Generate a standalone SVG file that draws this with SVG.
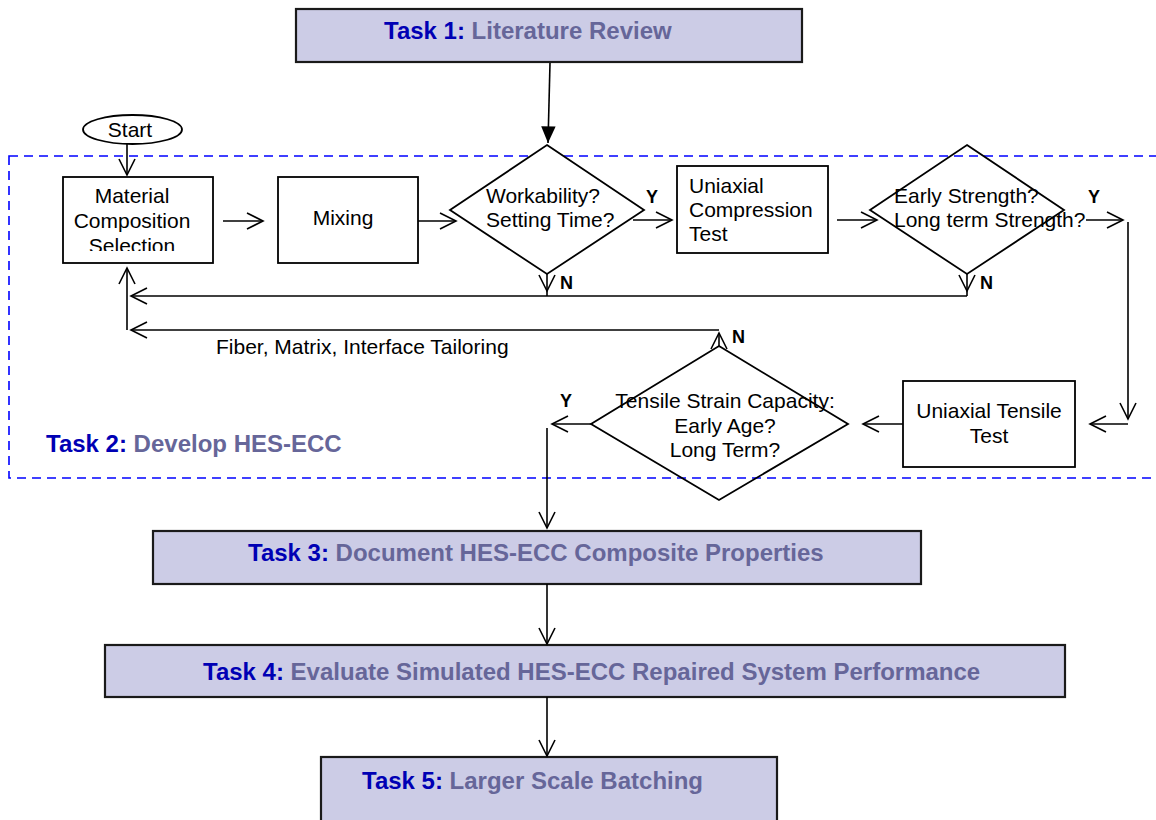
<svg xmlns="http://www.w3.org/2000/svg" width="1156" height="820" viewBox="0 0 1156 820">
<style>
.ln{stroke:#000;stroke-width:1.6;fill:none}
.box{fill:#fff;stroke:#000;stroke-width:1.8}
.task{fill:#CCCCE6;stroke:#1a1a1a;stroke-width:2.2}
.t{font-family:"Liberation Sans",Arial,sans-serif;font-size:21px;fill:#000}
.yn{font-family:"Liberation Sans",Arial,sans-serif;font-size:18px;font-weight:bold;fill:#000}
.tt{font-family:"Liberation Sans",Arial,sans-serif;font-size:24px;font-weight:bold}
.tn{fill:#0000B4}
.td{fill:#666699}
</style>
<defs>
<marker id="open" markerUnits="userSpaceOnUse" markerWidth="22" markerHeight="22" viewBox="-19 -11 22 22" refX="0" refY="0" orient="auto">
<path d="M-16,-8 L0,0 L-16,8" fill="none" stroke="#000" stroke-width="1.6"/>
</marker>
<marker id="solid" markerUnits="userSpaceOnUse" markerWidth="20" markerHeight="20" viewBox="-16 -8 18 16" refX="0" refY="0" orient="auto">
<path d="M-15,-6.5 L0,0 L-15,6.5 Z" fill="#000"/>
</marker>
<clipPath id="clipMat"><rect x="60" y="170" width="160" height="81"/></clipPath>
</defs>

<!-- Task 2 dashed region -->
<g id="task2">
<rect x="9" y="156" width="1160" height="322" fill="none" stroke="#0000FF" stroke-width="1.6" stroke-dasharray="9,6"/>
<text class="tt" x="46" y="452"><tspan class="tn">Task 2:</tspan><tspan class="td"> Develop HES-ECC</tspan></text>
</g>

<g id="task1">
<rect class="task" x="296" y="9" width="506" height="53"/>
<text class="tt" x="384" y="39"><tspan class="tn">Task 1:</tspan><tspan class="td"> Literature Review</tspan></text>
</g>

<g id="start">
<ellipse cx="132.5" cy="129.5" rx="49.5" ry="14.5" fill="#fff" stroke="#000" stroke-width="1.8"/>
<text class="t" x="130" y="137" text-anchor="middle" font-size="19">Start</text>
</g>

<g id="material">
<rect class="box" x="63" y="177" width="150" height="86"/>
<g clip-path="url(#clipMat)">
<text class="t" x="132" y="203" text-anchor="middle">Material</text>
<text class="t" x="132" y="228" text-anchor="middle">Composition</text>
<text class="t" x="132" y="253" text-anchor="middle">Selection</text>
</g>
</g>

<g id="mixing">
<rect class="box" x="278" y="177" width="140" height="86"/>
<text class="t" x="343" y="225" text-anchor="middle">Mixing</text>
</g>

<g id="dec1">
<polygon points="547,145 644,210 547,274 450,210" fill="#fff" stroke="#000" stroke-width="1.8"/>
<text class="t" x="486" y="203">Workability?</text>
<text class="t" x="486" y="227">Setting Time?</text>
</g>

<g id="compression">
<rect class="box" x="677" y="166" width="151" height="87"/>
<text class="t" x="689" y="193">Uniaxial</text>
<text class="t" x="689" y="217">Compression</text>
<text class="t" x="689" y="241">Test</text>
</g>

<g id="dec2">
<polygon points="967,145 1064,210 967,274 870,210" fill="none" stroke="#000" stroke-width="1.8"/>
<text class="t" x="894" y="203">Early Strength?</text>
<text class="t" x="894" y="227">Long term Strength?</text>
</g>

<g id="tensile">
<rect class="box" x="903" y="381" width="172" height="86"/>
<text class="t" x="989" y="418" text-anchor="middle">Uniaxial Tensile</text>
<text class="t" x="989" y="443" text-anchor="middle">Test</text>
</g>

<g id="dec3">
<polygon points="719,346 848,424 719,500 591,424" fill="none" stroke="#000" stroke-width="1.8"/>
<text class="t" x="725" y="408" text-anchor="middle">Tensile Strain Capacity:</text>
<text class="t" x="725" y="433" text-anchor="middle">Early Age?</text>
<text class="t" x="725" y="457" text-anchor="middle">Long Term?</text>
</g>

<g id="task3">
<rect class="task" x="153" y="531" width="768" height="53"/>
<text class="tt" x="248" y="561"><tspan class="tn">Task 3:</tspan><tspan class="td"> Document HES-ECC Composite Properties</tspan></text>
</g>

<g id="task4">
<rect class="task" x="105" y="645" width="960" height="52"/>
<text class="tt" x="203" y="680"><tspan class="tn">Task 4:</tspan><tspan class="td"> Evaluate Simulated HES-ECC Repaired System Performance</tspan></text>
</g>

<g id="task5">
<rect class="task" x="321" y="757" width="456" height="70"/>
<text class="tt" x="362" y="789"><tspan class="tn">Task 5:</tspan><tspan class="td"> Larger Scale Batching</tspan></text>
</g>

<g id="connectors">
<line class="ln" x1="550" y1="63" x2="548" y2="143" marker-end="url(#solid)"/>
<line class="ln" x1="127" y1="144" x2="127" y2="175" marker-end="url(#open)"/>
<line class="ln" x1="223" y1="221" x2="263" y2="221" marker-end="url(#open)"/>
<line class="ln" x1="418" y1="221" x2="456" y2="221" marker-end="url(#open)"/>
<line class="ln" x1="633" y1="220" x2="672" y2="220" marker-end="url(#open)"/>
<line class="ln" x1="547" y1="274" x2="547" y2="291" marker-end="url(#open)"/>
<line class="ln" x1="547" y1="291" x2="547" y2="296"/>
<line class="ln" x1="837" y1="220" x2="877" y2="220" marker-end="url(#open)"/>
<line class="ln" x1="967" y1="274" x2="967" y2="291" marker-end="url(#open)"/>
<line class="ln" x1="967" y1="291" x2="967" y2="296"/>
<line class="ln" x1="967" y1="296" x2="131" y2="296" marker-end="url(#open)"/>
<line class="ln" x1="1086" y1="220" x2="1123" y2="220" marker-end="url(#open)"/>
<line class="ln" x1="1128" y1="222" x2="1128" y2="419" marker-end="url(#open)"/>
<line class="ln" x1="1128" y1="424" x2="1090" y2="424" marker-end="url(#open)"/>
<line class="ln" x1="903" y1="424" x2="863" y2="424" marker-end="url(#open)"/>
<line class="ln" x1="719" y1="346" x2="719" y2="333" marker-end="url(#open)"/>
<line class="ln" x1="719" y1="330" x2="131" y2="330" marker-end="url(#open)"/>
<line class="ln" x1="127" y1="330" x2="127" y2="268" marker-end="url(#open)"/>
<line class="ln" x1="591" y1="424" x2="552" y2="424" marker-end="url(#open)"/>
<line class="ln" x1="547" y1="428" x2="547" y2="528" marker-end="url(#open)"/>
<line class="ln" x1="547" y1="584" x2="547" y2="644" marker-end="url(#open)"/>
<line class="ln" x1="547" y1="697" x2="547" y2="756" marker-end="url(#open)"/>
<text class="t" x="216" y="354">Fiber, Matrix, Interface Tailoring</text>
<text class="yn" x="646" y="203">Y</text>
<text class="yn" x="560" y="289">N</text>
<text class="yn" x="1088" y="203">Y</text>
<text class="yn" x="980" y="289">N</text>
<text class="yn" x="732" y="343">N</text>
<text class="yn" x="560" y="407">Y</text>
</g>
</svg>
